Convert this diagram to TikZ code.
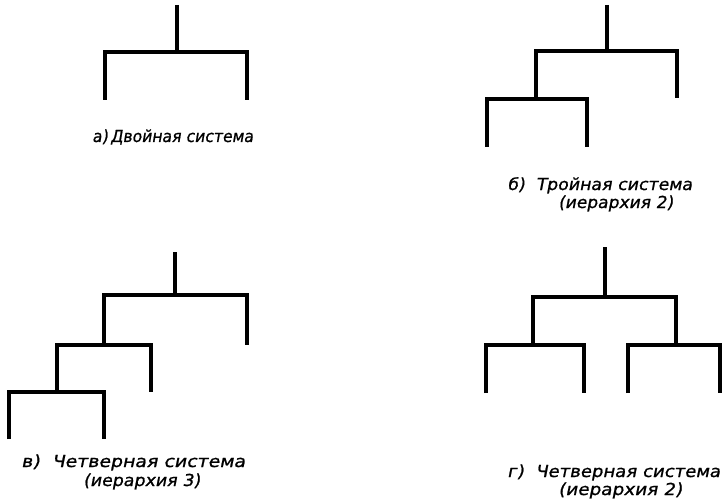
\documentclass[tikz,border=0pt]{standalone}
\usepackage{graphicx}
\usepackage{fontspec}
\newfontfamily\labfont[FakeSlant=0.18,FakeBold=1]{DejaVu Sans}
\newcommand\fitlab[2]{\resizebox{#1pt}{\height}{#2}}
\begin{document}
\begin{tikzpicture}[x=1pt,y=-1pt,
  tree/.style={line width=3.5pt,line join=miter,line cap=butt},
  lab/.style={font=\labfont\fontsize{16.5}{16.5}\selectfont,inner sep=0pt,anchor=base west}]
\useasboundingbox[fill=white] (0,0) rectangle (723,500);
% panel a
\coordinate (a0) at (177,5); \coordinate (a1) at (177,52);
\coordinate (aL) at (105,52); \coordinate (aR) at (247,52);
\coordinate (aLd) at (105,100); \coordinate (aRd) at (247,100);
\draw[tree] (a0) -- (a1);
\draw[tree] (aLd) -- (aL) -- (aR) -- (aRd);
\node[lab] (la) at (92,142) {\fitlab{161}{а)\,Двойная система}};
% panel b
\coordinate (b0) at (607,5); \coordinate (b1) at (607,51);
\coordinate (bL) at (536,51); \coordinate (bR) at (677,51);
\coordinate (bRd) at (677,98);
\coordinate (bLL) at (487,99); \coordinate (bLm) at (536,99); \coordinate (bLR) at (587,99);
\coordinate (bLLd) at (487,147); \coordinate (bLRd) at (587,147);
\draw[tree] (b0) -- (b1);
\draw[tree] (bLm) -- (bL) -- (bR) -- (bRd);
\draw[tree] (bLLd) -- (bLL) -- (bLR) -- (bLRd);
\node[lab] (lb1) at (507,190) {\fitlab{185}{б)\ \ Тройная система}};
\node[lab] (lb2) at (558,208) {\fitlab{115}{(иерархия 2)}};
% panel c
\coordinate (c0) at (175,252); \coordinate (c1) at (175,295);
\coordinate (cL) at (104,295); \coordinate (cR) at (247,295);
\coordinate (cRd) at (247,345);
\coordinate (cLL) at (57,345); \coordinate (cLm) at (104,345); \coordinate (cLR) at (151,345);
\coordinate (cLRd) at (151,392);
\coordinate (cLLL) at (9,392); \coordinate (cLLm) at (57,392); \coordinate (cLLR) at (104,392);
\coordinate (cLLLd) at (9,439); \coordinate (cLLRd) at (104,439);
\draw[tree] (c0) -- (c1);
\draw[tree] (cLm) -- (cL) -- (cR) -- (cRd);
\draw[tree] (cLLm) -- (cLL) -- (cLR) -- (cLRd);
\draw[tree] (cLLLd) -- (cLLL) -- (cLLR) -- (cLLRd);
\node[lab] (lc1) at (21,467) {\fitlab{224}{в)\ \ Четверная система}};
\node[lab] (lc2) at (83,486) {\fitlab{117}{(иерархия 3)}};
% panel d
\coordinate (d0) at (605,247); \coordinate (d1) at (605,297);
\coordinate (dL) at (533,297); \coordinate (dR) at (676,297);
\coordinate (dLm) at (533,345); \coordinate (dRm) at (676,345);
\coordinate (dLL) at (486,345); \coordinate (dLR) at (584,345);
\coordinate (dRL) at (628,345); \coordinate (dRR) at (720,345);
\coordinate (dLLd) at (486,393); \coordinate (dLRd) at (584,393);
\coordinate (dRLd) at (628,393); \coordinate (dRRd) at (720,393);
\draw[tree] (d0) -- (d1);
\draw[tree] (dLm) -- (dL) -- (dR) -- (dRm);
\draw[tree] (dLLd) -- (dLL) -- (dLR) -- (dLRd);
\draw[tree] (dRLd) -- (dRL) -- (dRR) -- (dRRd);
\node[lab] (ld1) at (507,477) {\fitlab{213}{г)\ \ Четверная система}};
\node[lab] (ld2) at (558,495) {\fitlab{124}{(иерархия 2)}};
\end{tikzpicture}
\end{document}
